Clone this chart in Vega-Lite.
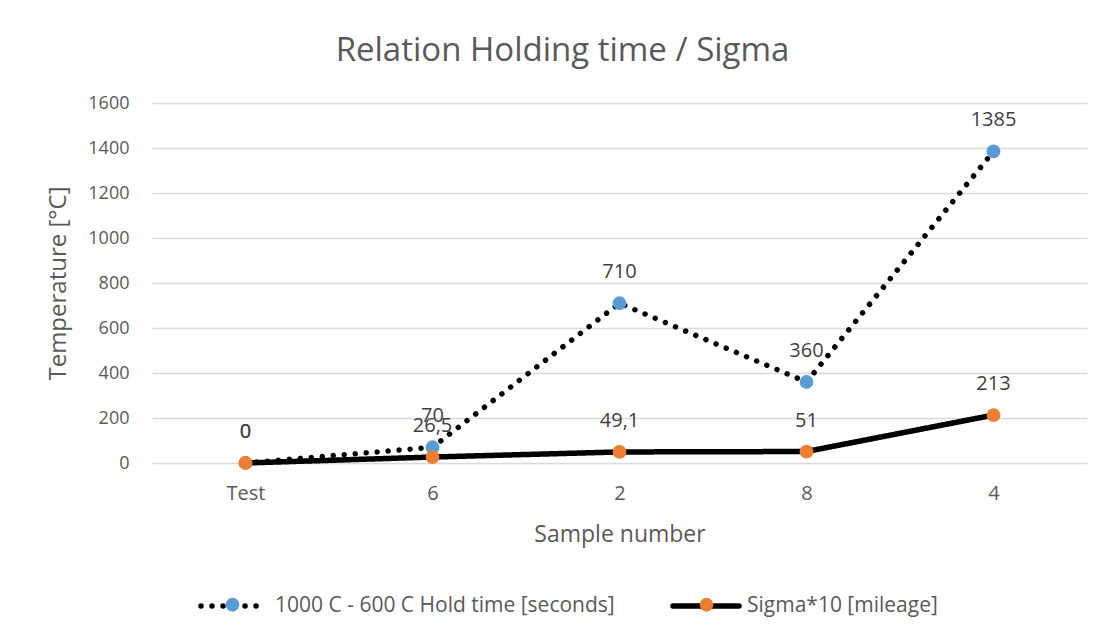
{
  "$schema": "https://vega.github.io/schema/vega-lite/v6.json",
  "width": 935,
  "height": 360,
  "autosize": "none",
  "padding": {"left": 152, "top": 103, "right": 23, "bottom": 179},
  "background": "white",
  "title": {
    "text": "Relation Holding time / Sigma",
    "fontSize": 33,
    "font": "Open Sans",
    "fontWeight": "normal",
    "color": "#595959",
    "anchor": "middle",
    "dx": -57,
    "offset": 26
  },
  "config": {
    "locale": {"number": {"decimal": ",", "thousands": ".", "grouping": [3], "currency": ["", ""]}},
    "view": {"stroke": null},
    "font": "Open Sans"
  },
  "data": {
    "values": [
      {"sample": "Test", "series": "1000 C - 600 C Hold time [seconds]", "value": 0},
      {"sample": "6", "series": "1000 C - 600 C Hold time [seconds]", "value": 70},
      {"sample": "2", "series": "1000 C - 600 C Hold time [seconds]", "value": 710},
      {"sample": "8", "series": "1000 C - 600 C Hold time [seconds]", "value": 360},
      {"sample": "4", "series": "1000 C - 600 C Hold time [seconds]", "value": 1385},
      {"sample": "Test", "series": "Sigma*10 [mileage]", "value": 0},
      {"sample": "6", "series": "Sigma*10 [mileage]", "value": 26.5},
      {"sample": "2", "series": "Sigma*10 [mileage]", "value": 49.1},
      {"sample": "8", "series": "Sigma*10 [mileage]", "value": 51},
      {"sample": "4", "series": "Sigma*10 [mileage]", "value": 213}
    ]
  },
  "encoding": {
    "x": {
      "field": "sample",
      "type": "nominal",
      "sort": ["Test", "6", "2", "8", "4"],
      "scale": {"type": "point", "padding": 0.5},
      "axis": {
        "title": "Sample number",
        "titleFontSize": 23,
        "titleFont": "Open Sans",
        "titleFontWeight": "normal",
        "titleColor": "#595959",
        "titlePadding": 20,
        "labelFontSize": 20,
        "labelFont": "Open Sans",
        "labelColor": "#595959",
        "labelAngle": 0,
        "labelPadding": 20,
        "ticks": false,
        "domain": false,
        "grid": false
      }
    },
    "y": {
      "field": "value",
      "type": "quantitative",
      "scale": {"domain": [0, 1600], "nice": false},
      "axis": {
        "title": "Temperature [°C]",
        "titleFontSize": 24,
        "titleFont": "Open Sans",
        "titleFontWeight": "normal",
        "titleColor": "#595959",
        "titlePadding": 17,
        "labelFontSize": 18,
        "labelFont": "Open Sans",
        "labelColor": "#595959",
        "labelPadding": 23,
        "values": [0, 200, 400, 600, 800, 1000, 1200, 1400, 1600],
        "format": "d",
        "ticks": false,
        "domain": false,
        "grid": true,
        "gridColor": "#d9d9d9",
        "gridWidth": 1.3
      }
    }
  },
  "layer": [
    {
      "mark": {"type": "line", "color": "black", "strokeWidth": 5.5, "strokeCap": "round"},
      "encoding": {
        "order": {"value": null},
        "strokeDash": {
          "field": "series",
          "type": "nominal",
          "scale": {
            "domain": ["1000 C - 600 C Hold time [seconds]", "Sigma*10 [mileage]"],
            "range": [[0.01, 11], [1, 0]]
          },
          "legend": {
            "orient": "none",
            "legendX": 46,
            "legendY": 467,
            "direction": "horizontal",
            "title": null,
            "padding": 0,
            "symbolType": "stroke",
            "symbolSize": 4356,
            "symbolStrokeWidth": 5.5,
            "symbolStrokeColor": "black",
            "labelFontSize": 21,
            "labelFont": "Open Sans",
            "labelColor": "#595959",
            "labelLimit": 600,
            "labelOffset": 5,
            "columnPadding": 47,
            "encode": {"symbols": {"update": {"strokeCap": {"value": "round"}}}}
          }
        }
      }
    },
    {
      "mark": {"type": "point", "filled": true, "size": 190, "opacity": 1},
      "encoding": {
        "fill": {
          "field": "series",
          "type": "nominal",
          "scale": {"range": ["#5B9BD5", "#ED7D31"]},
          "legend": {
            "orient": "none",
            "legendX": 70,
            "legendY": 491,
            "direction": "horizontal",
            "title": null,
            "padding": 0,
            "symbolType": "circle",
            "symbolSize": 190,
            "symbolStrokeWidth": 0,
            "symbolOpacity": 1,
            "labelFontSize": 21,
            "labelExpr": "''",
            "labelOffset": 0,
            "columnPadding": 453
          }
        }
      }
    },
    {
      "mark": {"type": "text", "dy": -31, "fontSize": 20, "font": "Open Sans", "color": "#404040"},
      "encoding": {
        "text": {"field": "value", "type": "quantitative", "format": "~g"}
      }
    }
  ]
}
